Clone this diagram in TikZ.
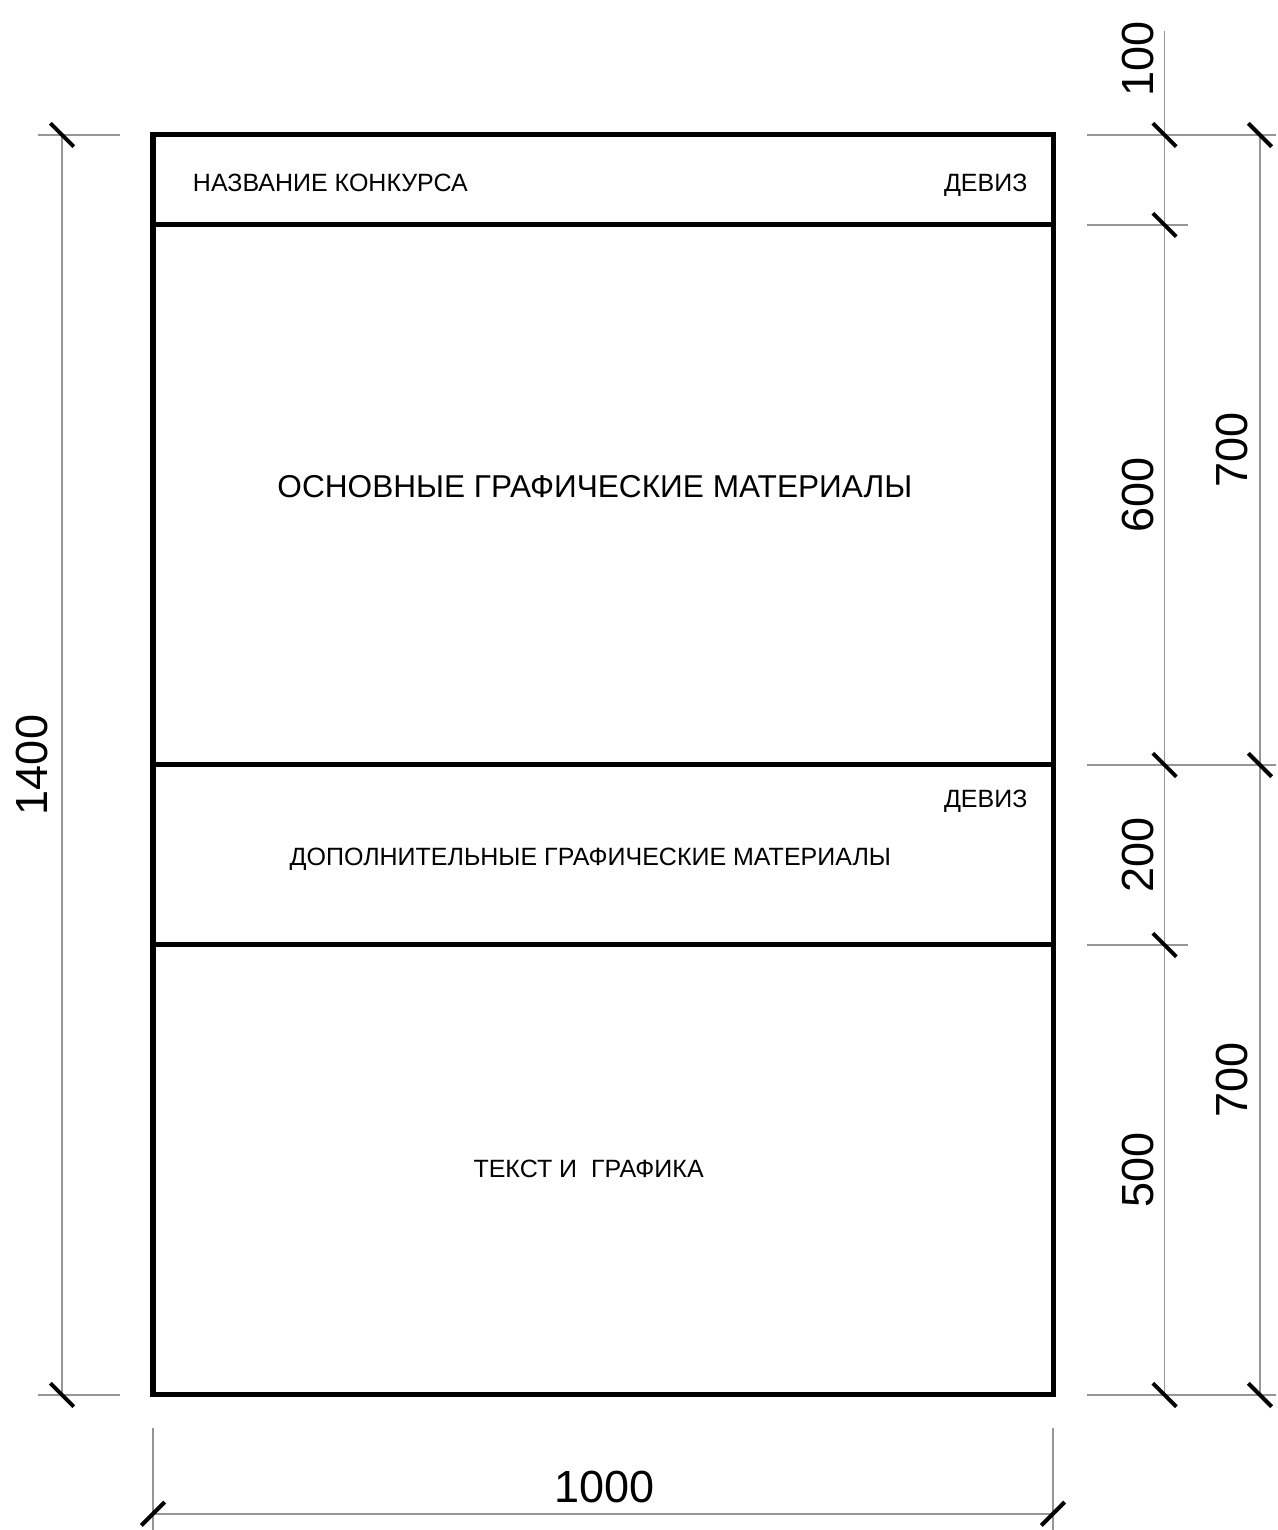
\documentclass[tikz,border=0pt]{standalone}
\usepackage{fontspec}
\setmainfont{Liberation Sans}
\usepackage{xcolor}
\definecolor{dimgray}{RGB}{150,150,150}
\newcommand{\smallfont}{\fontsize{12.5}{14}\selectfont}
\newcommand{\bigfont}{\fontsize{15.8}{18}\selectfont}
\newcommand{\dimfont}{\fontsize{22.5}{26}\selectfont}

\begin{document}
\begin{tikzpicture}[x=0.45pt, y=0.45pt,
    frame/.style={line width=2.5pt, line join=miter},
    dimline/.style={draw=dimgray, line width=0.8pt},
    dimtick/.style={line width=2pt},
    small/.style={font=\smallfont, inner sep=0pt},
    big/.style={font=\bigfont, inner sep=0pt},
    dimlabel/.style={font=\dimfont, inner sep=0pt}]
        \useasboundingbox (-170,-150) rectangle (1248.9,1550);

        % sheet
        \draw[frame] (0,0) rectangle (1000,1400);
        \draw[frame] (0,1300) -- (1000,1300);
        \draw[frame] (0,700) -- (1000,700);
        \draw[frame] (0,500) -- (1000,500);

        \node[small, anchor=base west] (contest) at (44,1337) {НАЗВАНИЕ КОНКУРСА};
        \node[small, anchor=base east] (mottotop) at (972,1337) {ДЕВИЗ};
        \node[big, anchor=base] (mainmat) at (491,997) {ОСНОВНЫЕ ГРАФИЧЕСКИЕ МАТЕРИАЛЫ};
        \node[small, anchor=base east] (mottomid) at (972,653) {ДЕВИЗ};
        \node[small, anchor=base] (extramat) at (486,588) {ДОПОЛНИТЕЛЬНЫЕ ГРАФИЧЕСКИЕ МАТЕРИАЛЫ};
        \node[small, anchor=base] (textgraph) at (484,242) {ТЕКСТ И \ ГРАФИКА};

        % left dimension
        \draw[dimline] (-128,0) -- (-37,0);
        \draw[dimline] (-128,1400) -- (-37,1400);
        \draw[dimline] (-101,0) -- (-101,1400);
        \draw[dimtick] (-101,0) ++(-13,13) -- ++(26,-26);
        \draw[dimtick] (-101,1400) ++(-13,13) -- ++(26,-26);
        \node[dimlabel, rotate=90] (dimh) at (-134,700) {1400};

        % bottom dimension
        \draw[dimline] (0,-37) -- (0,-150);
        \draw[dimline] (1000,-37) -- (1000,-150);
        \draw[dimline] (0,-132) -- (1000,-132);
        \draw[dimtick] (0,-132) ++(-13,-13) -- ++(26,26);
        \draw[dimtick] (1000,-132) ++(-13,-13) -- ++(26,26);
        \node[dimlabel] (dimw) at (502,-102) {1000};

        % right dimensions
        \draw[dimline] (1038,1400) -- (1248,1400);
        \draw[dimline] (1038,1300) -- (1150,1300);
        \draw[dimline] (1038,700) -- (1248,700);
        \draw[dimline] (1038,500) -- (1150,500);
        \draw[dimline] (1038,0) -- (1248,0);
        \draw[dimline] (1124,0) -- (1124,1515);
        \draw[dimline] (1230,0) -- (1230,1400);

        \draw[dimtick] (1124,1400) ++(-13,13) -- ++(26,-26);
        \draw[dimtick] (1124,1300) ++(-13,13) -- ++(26,-26);
        \draw[dimtick] (1124,700) ++(-13,13) -- ++(26,-26);
        \draw[dimtick] (1124,500) ++(-13,13) -- ++(26,-26);
        \draw[dimtick] (1124,0) ++(-13,13) -- ++(26,-26);
        \draw[dimtick] (1230,1400) ++(-13,13) -- ++(26,-26);
        \draw[dimtick] (1230,700) ++(-13,13) -- ++(26,-26);
        \draw[dimtick] (1230,0) ++(-13,13) -- ++(26,-26);

        \node[dimlabel, rotate=90] (dimtop) at (1095,1484) {100};
        \node[dimlabel, rotate=90] (dimmain) at (1095,1000) {600};
        \node[dimlabel, rotate=90] (dimextra) at (1095,600) {200};
        \node[dimlabel, rotate=90] (dimtext) at (1095,250) {500};
        \node[dimlabel, rotate=90] (dimupper) at (1199,1050) {700};
        \node[dimlabel, rotate=90] (dimlower) at (1199,350) {700};

    \end{tikzpicture}
\end{document}
